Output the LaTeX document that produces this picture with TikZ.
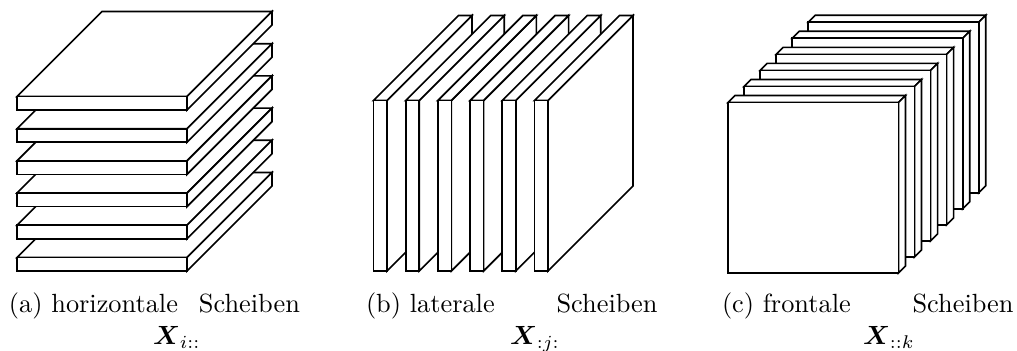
\documentclass[tikz,border=0pt]{standalone}
\usepackage{amsmath}
\tikzset{
  px/.style={x=0.38pt,y=-0.38pt},
  plate/.style={draw=black,fill=white,line width=0.62pt,line join=miter},
  lbl/.style={anchor=base west,inner sep=0pt,outer sep=0pt}
}
\newcommand{\wordgap}[1]{\hspace{#1pt}}
\begin{document}
\begin{tikzpicture}[px]
\useasboundingbox (0,0) rectangle (1017,351);
% (a) horizontal slices, drawn from the back (bottom) to the top
\foreach \y in {257.5,225.3,193.1,160.9,128.7,96.5}{
  \draw[plate] (17,\y) -- (102,\y-85) -- (272,\y-85) -- (187,\y) -- cycle;
  \draw[plate] (187,\y) -- (272,\y-85) -- (272,\y-71.5) -- (187,\y+13.5) -- cycle;
  \draw[plate] (17,\y) rectangle (187,\y+13.5);
}
% (b) lateral slices, drawn from left to right
\foreach \x in {373.5,405.7,437.9,470.1,502.3,534.5}{
  \draw[plate] (\x+13.5,100.5) -- (\x+98.5,15.5) -- (\x+98.5,186) -- (\x+13.5,271) -- cycle;
  \draw[plate] (\x,100.5) -- (\x+85,15.5) -- (\x+98.5,15.5) -- (\x+13.5,100.5) -- cycle;
  \draw[plate] (\x,100.5) rectangle (\x+13.5,271);
}
% (c) frontal slices, drawn from the back to the front
\foreach \i in {5,4,3,2,1,0}{
  \pgfmathsetmacro{\x}{728+16.05*\i}
  \pgfmathsetmacro{\y}{102.5-16.05*\i}
  \draw[plate] (\x,\y) -- (\x+7,\y-7) -- (\x+177.5,\y-7) -- (\x+170.5,\y) -- cycle;
  \draw[plate] (\x+170.5,\y) -- (\x+177.5,\y-7) -- (\x+177.5,\y+163.5) -- (\x+170.5,\y+170.5) -- cycle;
  \draw[plate] (\x,\y) rectangle (\x+170.5,\y+170.5);
}
% captions
\node[lbl] (capa) at (9,313) {(a) horizontale\wordgap{8}Scheiben};
\node[lbl] (capb) at (366,313) {(b) laterale\wordgap{23.5}Scheiben};
\node[lbl] (capc) at (722,313) {(c) frontale\wordgap{23.5}Scheiben};
\node[lbl] (syma) at (153,345) {$\boldsymbol{X}_{i::}$};
\node[lbl] (symb) at (510,345) {$\boldsymbol{X}_{:j:}$};
\node[lbl] (symc) at (863,345) {$\boldsymbol{X}_{::k}$};
\end{tikzpicture}
\end{document}
